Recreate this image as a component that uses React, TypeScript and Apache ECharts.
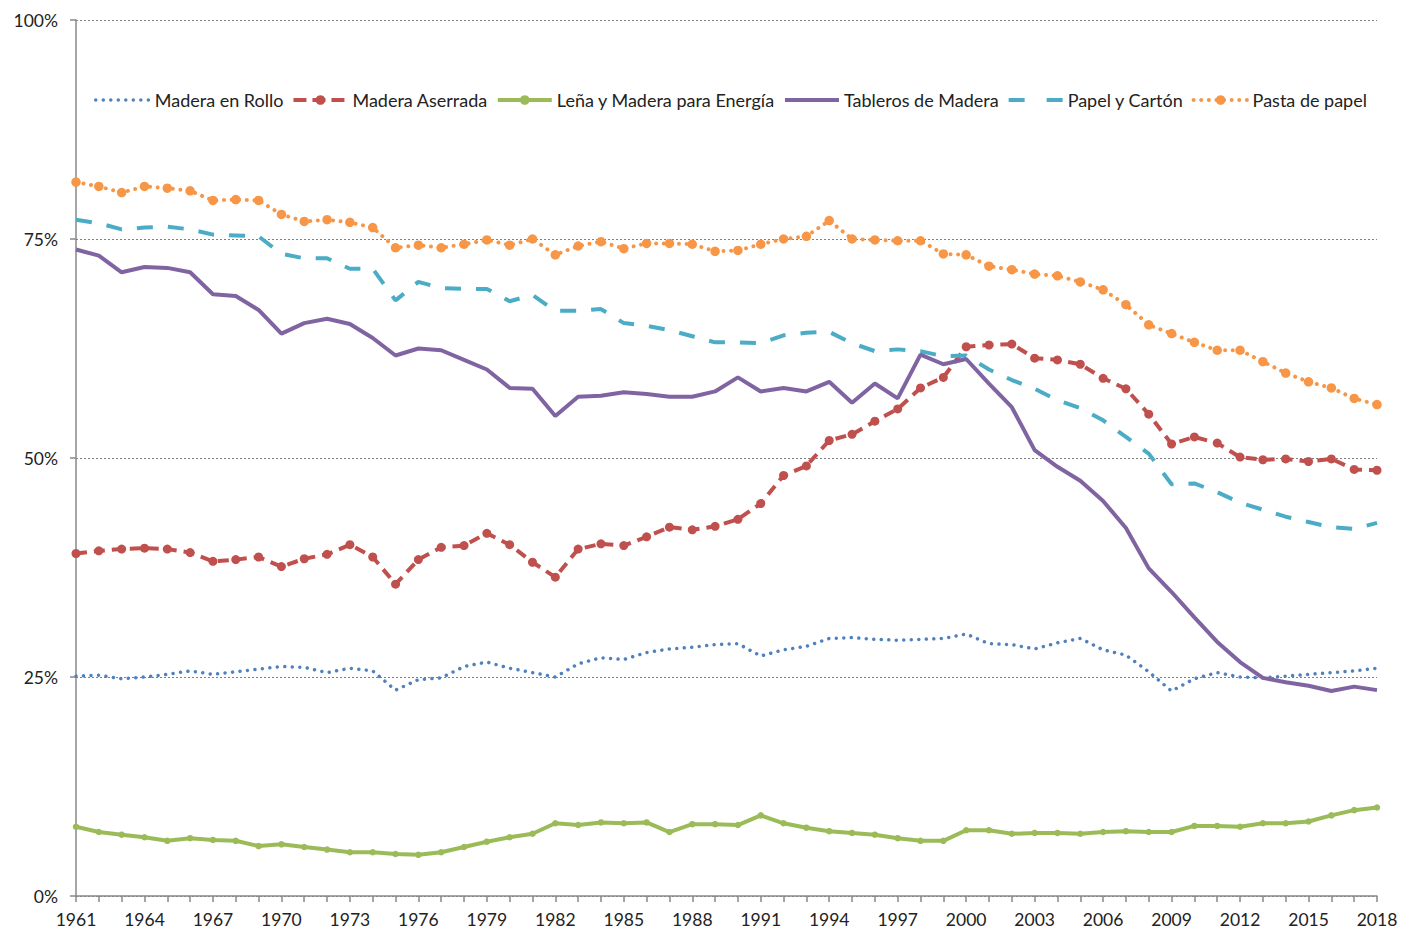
import React, { useEffect, useRef } from "react";
import * as echarts from "echarts";

const years = [
  "1961","1962","1963","1964","1965","1966","1967","1968","1969","1970",
  "1971","1972","1973","1974","1975","1976","1977","1978","1979","1980",
  "1981","1982","1983","1984","1985","1986","1987","1988","1989","1990",
  "1991","1992","1993","1994","1995","1996","1997","1998","1999","2000",
  "2001","2002","2003","2004","2005","2006","2007","2008","2009","2010",
  "2011","2012","2013","2014","2015","2016","2017","2018",
];

const maderaRollo = [
  25.1, 25.2, 24.8, 25.0, 25.3, 25.7, 25.3, 25.6, 25.9, 26.2,
  26.1, 25.5, 26.0, 25.7, 23.5, 24.7, 24.9, 26.2, 26.7, 26.0,
  25.5, 25.0, 26.5, 27.2, 27.0, 27.8, 28.2, 28.4, 28.7, 28.8,
  27.4, 28.1, 28.5, 29.4, 29.5, 29.3, 29.2, 29.3, 29.4, 29.9,
  28.8, 28.7, 28.2, 28.9, 29.4, 28.1, 27.5, 25.6, 23.4, 24.8,
  25.5, 25.0, 24.9, 25.1, 25.3, 25.5, 25.7, 26.0,
];

const maderaAserrada = [
  39.1, 39.4, 39.6, 39.7, 39.6, 39.2, 38.2, 38.4, 38.7, 37.6,
  38.5, 39.0, 40.1, 38.7, 35.6, 38.4, 39.8, 40.0, 41.4, 40.1,
  38.1, 36.4, 39.6, 40.2, 40.0, 41.0, 42.1, 41.8, 42.2, 43.0,
  44.8, 48.0, 49.1, 52.0, 52.7, 54.2, 55.6, 58.0, 59.2, 62.7,
  62.9, 63.0, 61.4, 61.2, 60.7, 59.1, 57.9, 55.0, 51.6, 52.4,
  51.7, 50.1, 49.8, 49.9, 49.6, 49.9, 48.7, 48.6,
];

const lenaEnergia = [
  7.9, 7.3, 7.0, 6.7, 6.3, 6.6, 6.4, 6.3, 5.7, 5.9,
  5.6, 5.3, 5.0, 5.0, 4.8, 4.7, 5.0, 5.6, 6.2, 6.7,
  7.1, 8.3, 8.1, 8.4, 8.3, 8.4, 7.3, 8.2, 8.2, 8.1,
  9.2, 8.3, 7.8, 7.4, 7.2, 7.0, 6.6, 6.3, 6.3, 7.5,
  7.5, 7.1, 7.2, 7.2, 7.1, 7.3, 7.4, 7.3, 7.3, 8.0,
  8.0, 7.9, 8.3, 8.3, 8.5, 9.2, 9.8, 10.1,
];

const tableros = [
  73.8, 73.1, 71.2, 71.8, 71.7, 71.2, 68.7, 68.5, 66.9, 64.2,
  65.4, 65.9, 65.3, 63.7, 61.7, 62.5, 62.3, 61.2, 60.1, 58.0,
  57.9, 54.8, 57.0, 57.1, 57.5, 57.3, 57.0, 57.0, 57.6, 59.2,
  57.6, 58.0, 57.6, 58.7, 56.3, 58.5, 56.8, 61.8, 60.7, 61.3,
  58.5, 55.8, 50.9, 49.0, 47.4, 45.1, 42.0, 37.4, 34.7, 31.8,
  29.0, 26.7, 24.9, 24.4, 24.0, 23.4, 23.9, 23.5,
];

const papelCarton = [
  77.2, 76.8, 76.1, 76.3, 76.4, 76.1, 75.5, 75.4, 75.3, 73.3,
  72.8, 72.8, 71.6, 71.6, 68.0, 70.1, 69.4, 69.3, 69.3, 67.9,
  68.6, 66.8, 66.8, 67.0, 65.4, 65.1, 64.6, 63.9, 63.2, 63.2,
  63.1, 64.0, 64.3, 64.4, 63.1, 62.2, 62.4, 62.2, 61.6, 61.7,
  60.1, 58.9, 57.9, 56.6, 55.7, 54.3, 52.4, 50.5, 47.0, 47.1,
  46.1, 44.9, 44.1, 43.3, 42.7, 42.1, 41.9, 42.6,
];

const pastaPapel = [
  81.5, 81.0, 80.3, 81.0, 80.8, 80.5, 79.4, 79.5, 79.4, 77.8,
  77.0, 77.2, 76.9, 76.3, 74.0, 74.3, 74.0, 74.4, 74.9, 74.3,
  75.0, 73.2, 74.2, 74.7, 73.9, 74.5, 74.5, 74.4, 73.6, 73.7,
  74.4, 75.0, 75.3, 77.1, 75.0, 74.9, 74.8, 74.8, 73.3, 73.2,
  71.9, 71.5, 71.0, 70.8, 70.1, 69.2, 67.5, 65.2, 64.2, 63.2,
  62.3, 62.3, 61.0, 59.7, 58.7, 58.0, 56.8, 56.1,
];

const yTicks = [0, 25, 50, 75, 100];

const FONT = "Lato";

const C_ROLLO = "#4F81BD";
const C_ASERR = "#C0504D";
const C_LENA = "#9BBB59";
const C_TABL = "#8064A2";
const C_PAPEL = "#4BACC6";
const C_PASTA = "#F79646";

const DOT_ROLLO = [0.01, 7.5];
const DASH_ASERR = [11, 7];
const DASH_PAPEL = [16, 15];
const DOT_PASTA = [0.01, 7.6];

export default function App() {
  const ref = useRef<HTMLDivElement>(null);

  useEffect(() => {
    if (!ref.current) return;
    const chart = echarts.init(ref.current, undefined, { renderer: "svg" });
    chart.setOption({
      animation: false,
      backgroundColor: "#ffffff",
      textStyle: { fontFamily: FONT },
      legend: {
        top: 86,
        left: 89,
        itemWidth: 54,
        itemHeight: 12,
        itemGap: 8,
        textStyle: { fontFamily: FONT, fontSize: 18, color: "#222" },
        data: [
          {
            name: "Madera en Rollo",
            itemStyle: { opacity: 0 },
            lineStyle: { color: C_ROLLO, width: 3.5, type: DOT_ROLLO, cap: "round" },
          },
          {
            name: "Madera Aserrada",
            lineStyle: { color: C_ASERR, width: 4, type: [13, 6] },
          },
          {
            name: "Leña y Madera para Energía",
            lineStyle: { color: C_LENA, width: 4 },
          },
          {
            name: "Tableros de Madera",
            itemStyle: { opacity: 0 },
            lineStyle: { color: C_TABL, width: 4 },
          },
          {
            name: "Papel y Cartón",
            itemStyle: { opacity: 0 },
            lineStyle: { color: C_PAPEL, width: 4, type: [16, 22] },
          },
          {
            name: "Pasta de papel",
            lineStyle: { color: C_PASTA, width: 4, type: DOT_PASTA, cap: "round" },
          },
        ],
      },
      grid: { left: 76, right: 25, top: 20, bottom: 35, containLabel: false },
      xAxis: {
        type: "category",
        data: years,
        boundaryGap: false,
        axisLine: { lineStyle: { color: "#888", width: 1.5 } },
        axisTick: { show: true, interval: 0, length: 6, lineStyle: { color: "#888", width: 1.5 } },
        axisLabel: {
          interval: 2,
          margin: 14,
          fontFamily: FONT,
          fontSize: 17.5,
          color: "#222",
        },
        splitLine: { show: false },
      },
      yAxis: {
        type: "value",
        min: yTicks[0],
        max: yTicks[yTicks.length - 1],
        interval: 25,
        axisLine: { show: true, lineStyle: { color: "#888", width: 1.5 } },
        axisTick: { show: true, length: 6, lineStyle: { color: "#888", width: 1.5 } },
        axisLabel: {
          formatter: "{value}%",
          margin: 18,
          fontFamily: FONT,
          fontSize: 17.5,
          color: "#222",
        },
        splitLine: {
          show: true,
          lineStyle: { color: "#808080", width: 1, type: [2, 2] },
        },
      },
      series: [
        {
          name: "Madera en Rollo",
          type: "line",
          data: maderaRollo,
          symbol: "none",
          itemStyle: { color: C_ROLLO },
          lineStyle: { color: C_ROLLO, width: 3.5, type: DOT_ROLLO, cap: "round" },
          z: 2,
        },
        {
          name: "Madera Aserrada",
          type: "line",
          data: maderaAserrada,
          symbol: "circle",
          symbolSize: 9,
          showAllSymbol: true,
          itemStyle: { color: C_ASERR },
          lineStyle: { color: C_ASERR, width: 4, type: DASH_ASERR },
          z: 3,
        },
        {
          name: "Leña y Madera para Energía",
          type: "line",
          data: lenaEnergia,
          symbol: "circle",
          symbolSize: 6.5,
          showAllSymbol: true,
          itemStyle: { color: C_LENA },
          lineStyle: { color: C_LENA, width: 4 },
          z: 3,
        },
        {
          name: "Tableros de Madera",
          type: "line",
          data: tableros,
          symbol: "none",
          itemStyle: { color: C_TABL },
          lineStyle: { color: C_TABL, width: 4 },
          z: 4,
        },
        {
          name: "Papel y Cartón",
          type: "line",
          data: papelCarton,
          symbol: "none",
          itemStyle: { color: C_PAPEL },
          lineStyle: { color: C_PAPEL, width: 4, type: DASH_PAPEL },
          z: 3,
        },
        {
          name: "Pasta de papel",
          type: "line",
          data: pastaPapel,
          symbol: "circle",
          symbolSize: 9.5,
          showAllSymbol: true,
          itemStyle: { color: C_PASTA },
          lineStyle: { color: C_PASTA, width: 4, type: DOT_PASTA, cap: "round" },
          z: 3,
        },
      ],
    });
    return () => chart.dispose();
  }, []);

  return (
    <div
      ref={ref}
      style={{ position: "fixed", left: 0, top: 0, width: 1402, height: 931, background: "#fff" }}
    />
  );
}
